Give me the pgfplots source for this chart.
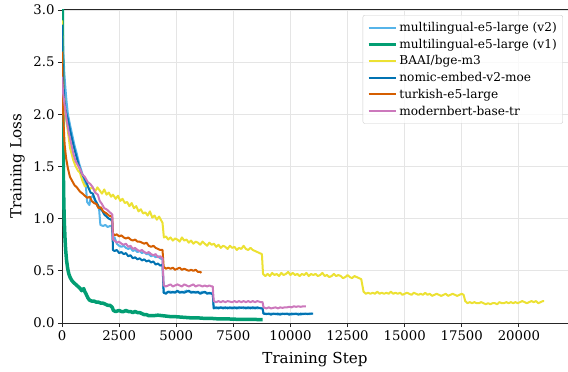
\documentclass[border=0pt]{standalone}
\usepackage{fontspec}
\setmainfont{DejaVu Serif}
\usepackage{pgfplots}
\pgfplotsset{compat=1.18}
\definecolor{cLB}{HTML}{56B4E9}
\definecolor{cGR}{HTML}{029E73}
\definecolor{cYE}{HTML}{ECE133}
\definecolor{cBL}{HTML}{0173B2}
\definecolor{cOR}{HTML}{D55E00}
\definecolor{cPK}{HTML}{CC78BC}
\begin{document}
\begin{tikzpicture}
\begin{axis}[
  name=ax,
  scale only axis, width=506bp, height=313bp,
  xmin=0, xmax=22150, ymin=0, ymax=3,
  xtick={0,2500,...,20000}, ytick={0,0.5,...,3},
  scaled x ticks=false, scaled y ticks=false,
  /pgf/number format/assume math mode=true,
  x tick label style={/pgf/number format/fixed, /pgf/number format/1000 sep={}},
  y tick label style={/pgf/number format/fixed, /pgf/number format/fixed zerofill, /pgf/number format/precision=1},
  tick label style={font=\fontsize{13.3}{15}\selectfont},
  xlabel={Training Step}, ylabel={Training Loss},
  every axis x label/.style={at={(axis description cs:0.5,-0.118)}, anchor=center, font=\fontsize{15.2}{17}\selectfont},
  every axis y label/.style={at={(axis description cs:-0.088,0.5)}, rotate=90, anchor=center, font=\fontsize{15.2}{17}\selectfont},
  tick pos=left, tick align=outside, major tick length=4bp,
  tick style={black!85, line width=0.9bp},
  axis line style={black!85, line width=1bp},
  grid=major, grid style={black!10, line width=0.8bp},
  legend style={at={(0.990,0.984)}, anchor=north east, draw=black!20, rounded corners=2pt,
    fill=white, fill opacity=0.8, text opacity=1, font=\fontsize{12.2}{14}\selectfont,
    row sep=2bp, inner xsep=4bp, inner ysep=5bp},
  legend cell align=left,
  legend image code/.code={\draw[#1] (0bp,0bp) -- (27bp,0bp);},
]
% multilingual-e5-large (v2)
\addplot[cLB, line width=2bp, line join=round] coordinates {(0,3.3) (30,2.9) (60,2.6) (100,2.4) (150,2.25) (200,2.12) (260,2.0) (350,1.9) (450,1.8) (550,1.70) (650,1.62) (750,1.53) (850,1.46) (950,1.38) (1050,1.30) (1100,1.16) (1200,1.13) (1250,1.20) (1350,1.22) (1450,1.17) (1550,1.12) (1620,1.10) (1680,0.94) (1800,0.93) (1900,0.94) (2000,0.92) (2100,0.93) (2180,0.93) (2220,0.80) (2300,0.82) (2400,0.76) (2500,0.74) (2600,0.73) (2700,0.74) (2800,0.72) (2900,0.71) (3000,0.72) (3100,0.69) (3200,0.70) (3300,0.68) (3400,0.69) (3500,0.67) (3600,0.68) (3700,0.66) (3800,0.66) (3900,0.64) (4000,0.65) (4100,0.63) (4200,0.64) (4300,0.62) (4400,0.61) (4450,0.29) (4550,0.29) (4650,0.30) (4750,0.30) (4850,0.29) (4950,0.30) (5050,0.30) (5150,0.30) (5250,0.29) (5350,0.30) (5450,0.31) (5550,0.30) (5650,0.30) (5750,0.29) (5850,0.30) (5950,0.29) (6050,0.29) (6150,0.30) (6250,0.29) (6350,0.29) (6450,0.28) (6550,0.29) (6600,0.28) (6640,0.15) (6750,0.14) (6850,0.15) (6950,0.145) (7050,0.15) (7150,0.14) (7250,0.15) (7350,0.14) (7450,0.15) (7550,0.14) (7650,0.15) (7750,0.14) (7850,0.15) (7950,0.14) (8050,0.15) (8150,0.14) (8250,0.15) (8350,0.14) (8450,0.15) (8550,0.14) (8700,0.145) (8780,0.14) (8820,0.09) (8950,0.09) (9050,0.085) (9150,0.09) (9250,0.085) (9350,0.09) (9450,0.08) (9550,0.09) (9650,0.085) (9750,0.09) (9850,0.085) (9950,0.09) (10050,0.08) (10150,0.09) (10250,0.085) (10350,0.09) (10450,0.08) (10550,0.09) (10650,0.085) (10750,0.09) (10850,0.085) (10950,0.09)};
\addlegendentry{multilingual-e5-large (v2)}
% multilingual-e5-large (v1)
\addplot[cGR, line width=3.5bp, line join=round] coordinates {(0,3.6) (20,2.6) (40,1.9) (60,1.45) (80,1.15) (100,0.98) (130,0.82) (160,0.70) (200,0.60) (250,0.52) (300,0.47) (350,0.44) (420,0.41) (500,0.39) (600,0.37) (700,0.35) (800,0.33) (860,0.31) (950,0.33) (1000,0.30) (1050,0.28) (1135,0.24) (1200,0.22) (1300,0.21) (1400,0.21) (1500,0.20) (1600,0.20) (1700,0.19) (1800,0.19) (1900,0.18) (2000,0.17) (2100,0.17) (2200,0.15) (2250,0.12) (2350,0.11) (2500,0.12) (2600,0.11) (2700,0.11) (2800,0.12) (2900,0.11) (3000,0.11) (3100,0.10) (3200,0.11) (3300,0.10) (3400,0.10) (3500,0.09) (3600,0.08) (3700,0.08) (3800,0.07) (4000,0.07) (4200,0.075) (4400,0.07) (4600,0.065) (4800,0.06) (5000,0.06) (5300,0.055) (5600,0.05) (5900,0.05) (6200,0.045) (6500,0.045) (6800,0.04) (7100,0.04) (7400,0.038) (7700,0.035) (8000,0.035) (8300,0.035) (8600,0.033) (8780,0.032)};
\addlegendentry{multilingual-e5-large (v1)}
% BAAI/bge-m3
\addplot[cYE, line width=2bp, line join=round] coordinates {(0,2.9) (30,2.5) (60,2.3) (100,2.15) (150,2.0) (250,1.85) (350,1.68) (495,1.56) (600,1.50) (700,1.46) (785,1.44) (900,1.36) (1000,1.31) (1100,1.32) (1200,1.28) (1300,1.30) (1370,1.29) (1450,1.26) (1550,1.30) (1650,1.27) (1750,1.24) (1850,1.28) (1950,1.23) (2050,1.25) (2150,1.21) (2230,1.23) (2350,1.19) (2450,1.22) (2550,1.17) (2650,1.19) (2750,1.15) (2850,1.16) (2950,1.12) (3050,1.15) (3150,1.10) (3250,1.12) (3350,1.07) (3450,1.09) (3550,1.05) (3650,1.06) (3750,1.03) (3850,1.07) (3950,1.01) (4050,1.03) (4150,0.99) (4250,1.02) (4350,0.98) (4400,0.96) (4460,0.82) (4550,0.83) (4650,0.80) (4750,0.82) (4850,0.79) (4950,0.81) (5050,0.80) (5150,0.78) (5250,0.82) (5350,0.79) (5450,0.80) (5550,0.77) (5650,0.79) (5750,0.76) (5850,0.78) (5950,0.77) (6050,0.75) (6150,0.78) (6250,0.76) (6350,0.74) (6450,0.77) (6550,0.75) (6650,0.76) (6750,0.73) (6850,0.75) (6950,0.72) (7050,0.74) (7150,0.73) (7250,0.71) (7350,0.74) (7450,0.72) (7550,0.73) (7650,0.70) (7750,0.72) (7850,0.71) (7950,0.74) (8050,0.71) (8150,0.70) (8250,0.72) (8350,0.70) (8450,0.69) (8550,0.68) (8650,0.67) (8750,0.66) (8800,0.47) (8900,0.45) (9000,0.47) (9100,0.45) (9200,0.48) (9300,0.46) (9400,0.47) (9500,0.45) (9600,0.48) (9700,0.46) (9800,0.47) (9900,0.49) (10000,0.46) (10100,0.48) (10200,0.46) (10300,0.47) (10400,0.45) (10500,0.47) (10600,0.46) (10700,0.48) (10800,0.45) (10900,0.47) (11000,0.46) (11100,0.47) (11200,0.45) (11300,0.46) (11400,0.48) (11500,0.45) (11600,0.46) (11700,0.44) (11800,0.45) (11900,0.47) (12000,0.45) (12100,0.46) (12200,0.45) (12300,0.43) (12400,0.44) (12500,0.46) (12600,0.44) (12700,0.43) (12800,0.45) (12900,0.44) (13000,0.43) (13100,0.42) (13200,0.30) (13300,0.28) (13400,0.29) (13500,0.28) (13600,0.29) (13700,0.28) (13800,0.30) (13900,0.28) (14000,0.29) (14100,0.28) (14200,0.29) (14300,0.28) (14400,0.30) (14500,0.28) (14600,0.29) (14700,0.28) (14800,0.29) (14900,0.27) (15000,0.28) (15100,0.29) (15200,0.28) (15300,0.27) (15400,0.29) (15500,0.28) (15600,0.27) (15700,0.28) (15800,0.27) (15900,0.29) (16000,0.27) (16100,0.28) (16200,0.26) (16300,0.27) (16400,0.28) (16500,0.27) (16600,0.26) (16700,0.27) (16800,0.28) (16900,0.26) (17000,0.27) (17100,0.28) (17200,0.27) (17300,0.26) (17400,0.27) (17500,0.28) (17580,0.27) (17650,0.21) (17750,0.19) (17850,0.20) (17950,0.19) (18050,0.20) (18150,0.19) (18250,0.19) (18350,0.20) (18450,0.19) (18550,0.18) (18650,0.19) (18750,0.18) (18850,0.19) (18950,0.19) (19050,0.18) (19150,0.20) (19250,0.19) (19350,0.19) (19450,0.20) (19550,0.19) (19650,0.20) (19750,0.19) (19850,0.20) (19950,0.19) (20050,0.20) (20150,0.21) (20250,0.20) (20350,0.19) (20450,0.20) (20550,0.21) (20650,0.20) (20750,0.21) (20850,0.19) (20950,0.20) (21050,0.21) (21100,0.21)};
\addlegendentry{BAAI/bge-m3}
% nomic-embed-v2-moe
\addplot[cBL, line width=2bp, line join=round] coordinates {(0,2.86) (30,2.5) (60,2.3) (100,2.15) (150,2.05) (200,2.0) (260,1.95) (350,1.85) (450,1.75) (550,1.66) (650,1.58) (750,1.50) (850,1.44) (950,1.40) (1050,1.36) (1150,1.30) (1250,1.25) (1350,1.24) (1450,1.18) (1550,1.14) (1650,1.10) (1750,1.08) (1850,1.04) (1950,1.02) (2050,1.00) (2150,0.99) (2200,0.97) (2230,0.70) (2300,0.69) (2400,0.70) (2500,0.67) (2600,0.68) (2700,0.66) (2800,0.67) (2900,0.64) (3000,0.65) (3100,0.62) (3200,0.63) (3300,0.61) (3400,0.62) (3500,0.60) (3600,0.61) (3700,0.59) (3800,0.60) (3900,0.58) (4000,0.59) (4100,0.56) (4200,0.57) (4300,0.55) (4400,0.56) (4450,0.29) (4550,0.28) (4650,0.30) (4750,0.29) (4850,0.30) (4950,0.29) (5050,0.31) (5150,0.29) (5250,0.30) (5350,0.29) (5450,0.30) (5550,0.31) (5650,0.29) (5750,0.30) (5850,0.29) (5950,0.30) (6050,0.28) (6150,0.29) (6250,0.30) (6350,0.28) (6450,0.29) (6550,0.28) (6600,0.28) (6640,0.14) (6750,0.15) (6850,0.14) (6950,0.15) (7050,0.14) (7150,0.15) (7250,0.14) (7350,0.15) (7450,0.14) (7550,0.15) (7650,0.14) (7750,0.15) (7850,0.145) (7950,0.15) (8050,0.14) (8150,0.15) (8250,0.14) (8350,0.15) (8450,0.14) (8550,0.15) (8700,0.14) (8780,0.14) (8820,0.09) (8950,0.085) (9050,0.09) (9150,0.08) (9250,0.09) (9350,0.085) (9450,0.09) (9550,0.08) (9650,0.09) (9750,0.085) (9850,0.09) (9950,0.08) (10050,0.09) (10150,0.085) (10250,0.09) (10350,0.08) (10450,0.09) (10550,0.085) (10650,0.09) (10750,0.085) (10850,0.09) (10990,0.09)};
\addlegendentry{nomic-embed-v2-moe}
% turkish-e5-large
\addplot[cOR, line width=2bp, line join=round] coordinates {(0,2.6) (30,2.2) (60,1.95) (115,1.71) (180,1.58) (260,1.48) (350,1.40) (450,1.36) (550,1.32) (650,1.30) (785,1.26) (900,1.24) (1000,1.22) (1100,1.20) (1220,1.21) (1300,1.17) (1400,1.15) (1510,1.14) (1600,1.10) (1700,1.11) (1800,1.07) (1950,1.05) (2050,1.03) (2170,1.02) (2200,1.01) (2230,0.86) (2300,0.84) (2400,0.85) (2500,0.83) (2600,0.84) (2700,0.82) (2800,0.81) (2900,0.82) (3000,0.80) (3100,0.79) (3200,0.80) (3300,0.78) (3400,0.78) (3500,0.77) (3600,0.76) (3700,0.77) (3800,0.74) (3900,0.73) (4000,0.74) (4100,0.72) (4200,0.71) (4300,0.70) (4400,0.70) (4450,0.54) (4550,0.52) (4650,0.53) (4750,0.52) (4850,0.53) (4950,0.51) (5050,0.52) (5150,0.53) (5250,0.51) (5350,0.52) (5450,0.51) (5550,0.50) (5650,0.51) (5750,0.50) (5850,0.51) (5950,0.49) (6050,0.49) (6100,0.48)};
\addlegendentry{turkish-e5-large}
% modernbert-base-tr
\addplot[cPK, line width=2bp, line join=round] coordinates {(0,2.36) (50,2.2) (115,2.09) (200,1.95) (300,1.82) (410,1.71) (500,1.62) (600,1.55) (700,1.51) (800,1.47) (900,1.42) (1000,1.40) (1130,1.35) (1250,1.33) (1350,1.30) (1450,1.25) (1570,1.23) (1650,1.17) (1750,1.14) (1850,1.10) (1950,1.09) (2050,1.07) (2150,1.05) (2200,1.04) (2230,0.80) (2300,0.79) (2400,0.77) (2500,0.78) (2600,0.76) (2700,0.75) (2800,0.76) (2900,0.73) (3000,0.74) (3100,0.71) (3200,0.72) (3300,0.70) (3400,0.69) (3500,0.70) (3600,0.68) (3700,0.67) (3800,0.68) (3900,0.66) (4000,0.65) (4100,0.66) (4200,0.63) (4300,0.64) (4400,0.62) (4450,0.36) (4550,0.35) (4650,0.36) (4750,0.37) (4850,0.35) (4950,0.36) (5050,0.37) (5150,0.36) (5250,0.35) (5350,0.37) (5450,0.36) (5550,0.35) (5650,0.36) (5750,0.37) (5850,0.35) (5950,0.36) (6050,0.36) (6150,0.35) (6250,0.36) (6350,0.35) (6450,0.36) (6550,0.35) (6600,0.35) (6640,0.21) (6750,0.20) (6850,0.21) (6950,0.20) (7050,0.21) (7150,0.20) (7250,0.21) (7350,0.205) (7450,0.20) (7550,0.21) (7650,0.20) (7750,0.21) (7850,0.20) (7950,0.21) (8050,0.20) (8150,0.21) (8250,0.20) (8350,0.21) (8450,0.20) (8550,0.21) (8700,0.20) (8780,0.20) (8820,0.15) (8950,0.14) (9050,0.15) (9150,0.14) (9250,0.145) (9350,0.15) (9450,0.14) (9550,0.15) (9650,0.145) (9750,0.15) (9850,0.15) (9950,0.155) (10050,0.15) (10150,0.16) (10250,0.155) (10350,0.16) (10450,0.155) (10550,0.16) (10675,0.16)};
\addlegendentry{modernbert-base-tr}
\end{axis}
\pgfresetboundingbox
\path (-62bp,-49bp) rectangle (506bp,323bp);
\end{tikzpicture}
\end{document}
